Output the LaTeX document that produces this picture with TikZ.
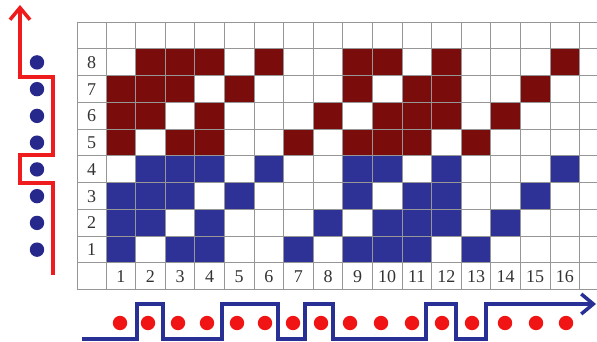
\documentclass[tikz,border=0pt]{standalone}
\usepackage{fontspec}
\setmainfont{Liberation Serif}
\usetikzlibrary{arrows.meta}
\definecolor{wred}{RGB}{122,12,12}
\definecolor{wblue}{RGB}{46,50,150}
\definecolor{gridgray}{RGB}{150,150,150}
\definecolor{linered}{RGB}{238,28,28}
\definecolor{dotred}{RGB}{240,20,20}
\definecolor{dotblue}{RGB}{38,40,140}
\definecolor{lineblue}{RGB}{40,48,150}
\begin{document}
\begin{tikzpicture}[x=1pt,y=-1pt,
  gridline/.style={draw=gridgray,line width=0.9pt},
  lab/.style={inner sep=0pt,font=\fontsize{18}{18}\selectfont,text=black!80},
  weftline/.style={draw=linered,line width=3.5pt,line join=miter},
  warpline/.style={draw=lineblue,line width=3.5pt,line join=miter},
  barb/.style={-{Straight Barb[length=12pt,width=20pt,line width=3.5pt]}}]
\useasboundingbox (0,0) rectangle (597,342);
\fill[white] (0,0) rectangle (597,342);
% cell fills
\foreach \r/\lst/\cc in {8/{2,3,4,6,9,10,12,16}/wred,
                         7/{1,2,3,5,9,11,12,15}/wred,
                         6/{1,2,4,8,10,11,12,14}/wred,
                         5/{1,3,4,7,9,10,11,13}/wred,
                         4/{2,3,4,6,9,10,12,16}/wblue,
                         3/{1,2,3,5,9,11,12,15}/wblue,
                         2/{1,2,4,8,10,11,12,14}/wblue,
                         1/{1,3,4,7,9,10,11,13}/wblue}{
  \foreach \k in \lst {
    \fill[\cc] ({106+(\k-1)*29.6},{49+(8-\r)*26.75}) rectangle ++(29.6,26.75);
  }
}
% grid
\foreach \i in {0,...,10} {
  \draw[gridline] (77,{22+\i*26.75}) -- (597,{22+\i*26.75});
}
\draw[gridline] (77,22) -- (77,289.5);
\foreach \k in {0,...,16} {
  \draw[gridline] ({106+\k*29.6},22) -- ({106+\k*29.6},289.5);
}
% row labels
\foreach \r in {1,...,8} {
  \node[lab] (r\r) at (91.5,{49+(8-\r)*26.75+13.4}) {\r};
}
% column labels
\foreach \k in {1,...,16} {
  \node[lab] (c\k) at ({106+(\k-0.5)*29.6},276.5) {\k};
}
% blue dots (weft)
\foreach \r in {1,...,8} {
  \fill[dotblue] (37,{49+(8-\r)*26.75+13.4}) circle (7.2);
}
% red weft line
\coordinate (wstart) at (53,275);
\coordinate (wend) at (20,5);
\draw[weftline,barb]
  (wstart) -- (53,183) -- (20,183) -- (20,155) -- (53,155) -- (53,77) -- (20,77) -- (wend);
% red dots (warp)
\foreach \x in {120,148,178,207,237,265,293,321,350,381,412,442,472,505,536,566} {
  \fill[dotred] (\x,323) circle (7.2);
}
% blue warp line
\coordinate (bstart) at (82,339);
\coordinate (bend) at (596,304);
\draw[warpline,barb]
  (bstart) -- (137,339) -- (137,304) -- (163,304) -- (163,339) -- (222,339) -- (222,304)
  -- (278,304) -- (278,339) -- (305,339) -- (305,304) -- (333,304) -- (333,339)
  -- (426,339) -- (426,304) -- (456,304) -- (456,339) -- (486,339) -- (486,304) -- (bend);
\end{tikzpicture}
\end{document}
